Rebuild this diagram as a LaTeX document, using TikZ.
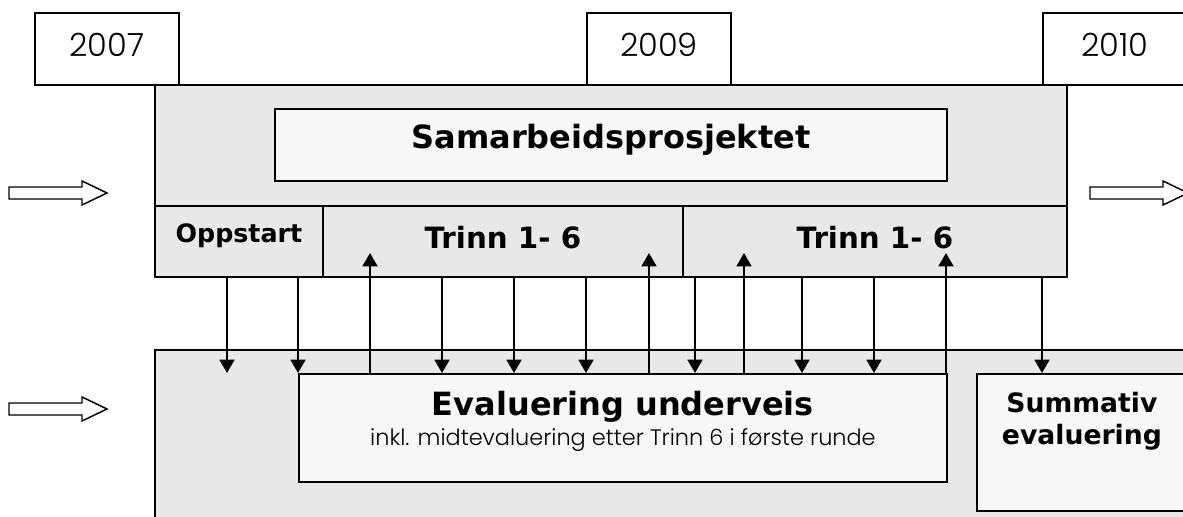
\documentclass[tikz,border=0pt]{standalone}
\usepackage{fontspec}
\setmainfont{DejaVu Sans}
\IfFontExistsTF{Poppins Light}{\newfontfamily\lightfont{Poppins Light}}{\newfontfamily\lightfont{Poppins}}
\usetikzlibrary{arrows.meta, positioning}

\definecolor{boxgrey}{HTML}{E8E8E8}
\definecolor{palegrey}{HTML}{F7F7F7}

\tikzset{
  box/.style={draw, line width=1.4pt, rectangle, anchor=north west, inner sep=0pt},
  grey/.style={box, fill=boxgrey},
  pale/.style={box, fill=palegrey},
  yearbox/.style={box, fill=white, minimum width=108pt, minimum height=54pt,
    font=\lightfont\fontsize{24}{28}\selectfont, text height=17pt, text depth=6pt},
  cell/.style={grey, minimum height=53.25pt, font=\bfseries\fontsize{22}{26}\selectfont,
    text height=16pt, text depth=6pt},
  link/.style={line width=2pt, -{Triangle[width=11pt,length=10pt]}},
  hollow/.style={draw, line width=1.1pt, fill=white},
}

\begin{document}
\begin{tikzpicture}[x=0.75pt, y=-0.75pt]
  \clip (0,0) rectangle (1183,517);

  % upper block
  \node[grey, minimum width=684pt, minimum height=144pt] (proj) at (154,84) {};
  \node[pale, minimum width=504pt, minimum height=54pt,
        font=\bfseries\fontsize{24}{28}\selectfont, text height=18pt, text depth=12pt]
        (title) at (274,108) {Samarbeidsprosjektet};
  \node[cell, minimum width=126pt, font=\bfseries\fontsize{19}{22}\selectfont,
        text height=14pt, text depth=13pt] (oppstart) at (154,205) {Oppstart};
  \node[cell, minimum width=270pt] (trinnA) at (322,205) {Trinn 1- 6};
  \node[cell, minimum width=288pt] (trinnB) at (682,205) {Trinn 1- 6};

  % years
  \node[yearbox] (y2007) at (34,12) {2007};
  \node[yearbox] (y2009) at (586,12) {2009};
  \node[yearbox] (y2010) at (1042,12) {2010};

  % lower block
  \node[grey, minimum width=790pt, minimum height=140pt] (evalarea) at (154,349) {};
  \node[pale, minimum width=486pt, minimum height=81pt, align=center,
        font=\lightfont\fontsize{16.8}{21}\selectfont, text height=30pt, text depth=3pt]
        (eval) at (298,373)
        {{\fontspec{DejaVu Sans}\bfseries\fontsize{24}{28}\selectfont Evaluering underveis}\\[2pt]
         inkl. midtevaluering etter Trinn 6 i første runde};
  \node[pale, minimum width=157.5pt, minimum height=102.75pt, align=center,
        font=\bfseries\fontsize{20}{20}\selectfont, text height=15pt, text depth=11.25pt]
        (summ) at (976,373) {Summativ\\[4.5pt]evaluering};

  \coordinate (uptip) at (0,253);

  % connectors
  \foreach \x in {227,298,442,514,586,695,802,874} {
    \coordinate (col) at (\x,0);
    \draw[link] (proj.south -| col) -- (eval.north -| col);
  }
  \foreach \x in {370,649,744,946} {
    \coordinate (col) at (\x,0);
    \draw[link] (eval.north -| col) -- (uptip -| col);
  }
  \coordinate (col) at (1042,0);
  \draw[link] (proj.south -| col) -- (summ.north -| col);

  % hollow arrows
  \foreach \y in {193,409}
    \draw[hollow] (9,\y-6) -- (82,\y-6) -- (82,\y-12) -- (107,\y) -- (82,\y+12)
      -- (82,\y+6) -- (9,\y+6) -- cycle;
  \draw[hollow] (1090,187) -- (1163,187) -- (1163,181) -- (1188,193) -- (1163,205)
    -- (1163,199) -- (1090,199) -- cycle;
\end{tikzpicture}
\end{document}
